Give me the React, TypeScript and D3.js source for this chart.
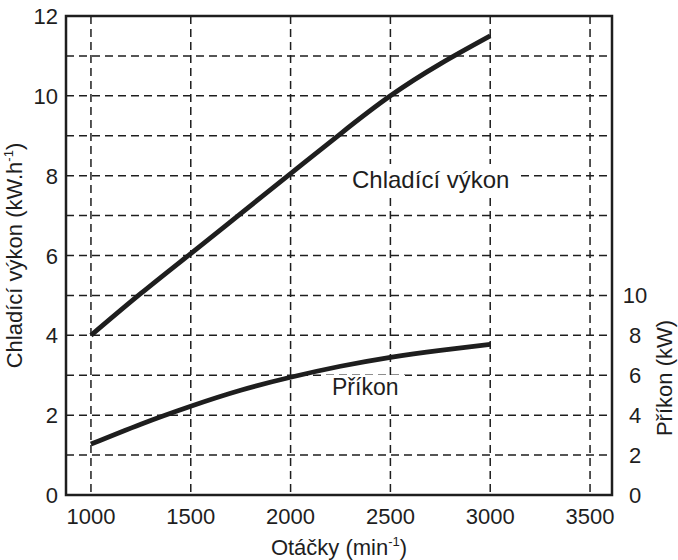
import React from "react";
import * as d3 from "d3";

const rpm = [1000, 1250, 1500, 1750, 2000, 2250, 2500, 2750, 3000];
const coolingPower = [4.0, 5.05, 6.05, 7.05, 8.05, 9.05, 10.0, 10.8, 11.5];
const inputPower = [2.55, 3.55, 4.45, 5.25, 5.9, 6.45, 6.9, 7.25, 7.55];
const xTicks = [1000, 1500, 2000, 2500, 3000, 3500];
const yLeftTicks = [0, 2, 4, 6, 8, 10, 12];
const yRightTicks = [0, 2, 4, 6, 8, 10];
const yGrid = [1, 2, 3, 4, 5, 6, 7, 8, 9, 10, 11];

const W = 678;
const H = 560;
const m = { left: 66, right: 612, top: 16, bottom: 495 };
const FONT = "'Liberation Sans', Arial, Helvetica, sans-serif";
const INK = "#1e1e1e";

export default function App() {
  const x = d3.scaleLinear().domain([875, 3610]).range([m.left, m.right]);
  const yL = d3.scaleLinear().domain([0, 12]).range([m.bottom, m.top]);
  const yR = d3.scaleLinear().domain([0, 24]).range([m.bottom, m.top]);

  const lineL = d3
    .line<number>()
    .x((_, i) => x(rpm[i]))
    .y((d) => yL(d))
    .curve(d3.curveNatural);
  const lineR = d3
    .line<number>()
    .x((_, i) => x(rpm[i]))
    .y((d) => yR(d))
    .curve(d3.curveNatural);

  const dash = "8,5";
  return (
    <svg
      width={W}
      height={H}
      style={{ position: "absolute", left: 0, top: 0, background: "#fff" }}
      fontFamily={FONT}
    >
      <rect x={0} y={0} width={W} height={H} fill="#fff" />
      {/* grid */}
      <g stroke={INK} strokeWidth={1.5} strokeDasharray={dash} fill="none">
        {xTicks.map((t) => (
          <line key={"vx" + t} x1={x(t)} x2={x(t)} y1={m.top} y2={m.bottom} />
        ))}
        {yGrid.map((t) => (
          <line key={"hy" + t} x1={m.left} x2={m.right} y1={yL(t)} y2={yL(t)} />
        ))}
      </g>
      {/* curves */}
      <path d={lineL(coolingPower) || ""} fill="none" stroke={INK} strokeWidth={4.8} />
      <path d={lineR(inputPower) || ""} fill="none" stroke={INK} strokeWidth={4.8} />

      {/* in-plot labels */}
      <rect x={347} y={164} width={173} height={31} fill="#fff" />
      <text x={352} y={188} fontSize={24} fill={INK}>
        Chladící výkon
      </text>
      <rect x={325} y={375} width={80} height={27} fill="#fff" />
      <text x={332} y={395} fontSize={23} fill={INK}>
        Příkon
      </text>

      {/* frame */}
      <rect
        x={m.left}
        y={m.top}
        width={m.right - m.left}
        height={m.bottom - m.top}
        fill="none"
        stroke={INK}
        strokeWidth={2.5}
      />

      {/* tick labels */}
      <g fontSize={22} fill={INK}>
        {xTicks.map((t) => (
          <text key={"xl" + t} x={x(t)} y={524} textAnchor="middle">
            {t}
          </text>
        ))}
        {yLeftTicks.map((t) => (
          <text key={"yl" + t} x={58} y={yL(t) + 8} textAnchor="end">
            {t}
          </text>
        ))}
        {yRightTicks.map((t) => (
          <text key={"yr" + t} x={635} y={yR(t) + 8} textAnchor="middle">
            {t}
          </text>
        ))}
      </g>

      {/* axis titles */}
      <text x={(m.left + m.right) / 2} y={555} fontSize={22} fill={INK} textAnchor="middle">
        Otáčky (min
        <tspan fontSize={13} dy={-9}>-1</tspan>
        <tspan dy={9}>)</tspan>
      </text>
      <text
        transform={`translate(22, ${(m.top + m.bottom) / 2}) rotate(-90)`}
        fontSize={22}
        fill={INK}
        textAnchor="middle"
      >
        Chladící výkon (kW.h
        <tspan fontSize={13} dy={-9}>-1</tspan>
        <tspan dy={9}>)</tspan>
      </text>
      <text
        transform={`translate(672, 378) rotate(-90)`}
        fontSize={22}
        fill={INK}
        textAnchor="middle"
      >
        Příkon (kW)
      </text>
    </svg>
  );
}
